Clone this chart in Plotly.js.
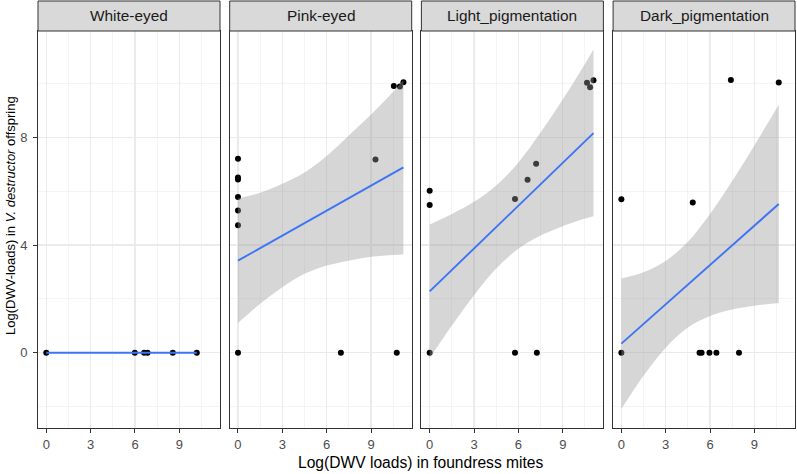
<!DOCTYPE html>
<html>
<head>
<meta charset="utf-8">
<script src="https://cdn.plot.ly/plotly-3.0.1.min.js"></script>
<style>html,body{margin:0;padding:0;background:#fff}#chart{width:797px;height:474px}</style>
</head>
<body>
<div id="chart"></div>
<script>
// ---------- data ----------
const panelNames = ['White-eyed', 'Pink-eyed', 'Light_pigmentation', 'Dark_pigmentation'];

// observed points
const whiteX = [0, 5.99, 6.62, 6.85, 8.56, 10.18];
const whiteY = [0, 0, 0, 0, 0, 0];
const pinkX = [0, 0, 0, 0, 0, 0, 0, 6.96, 10.74, 9.30, 10.54, 10.95, 11.19];
const pinkY = [7.20, 6.50, 6.43, 5.78, 5.28, 4.73, 0, 0, 0, 7.17, 9.90, 9.88, 10.04];
const lightX = [0, 0, 0, 5.77, 7.25, 5.77, 6.62, 7.20, 10.64, 10.85, 11.08];
const lightY = [6.01, 5.48, 0, 0, 0, 5.71, 6.42, 7.01, 10.02, 9.85, 10.11];
const darkX = [0, 0, 4.83, 5.29, 5.43, 5.96, 6.43, 7.96, 7.41, 10.65];
const darkY = [5.70, 0, 5.58, 0, 0, 0, 0, 0, 10.12, 10.03];

// fitted lines (end points)
const whiteFitX = [0, 10.18];
const whiteFitY = [0, 0];
const pinkFitX = [0, 11.19];
const pinkFitY = [3.42, 6.88];
const lightFitX = [0, 11.08];
const lightFitY = [2.28, 8.15];
const darkFitX = [0, 10.65];
const darkFitY = [0.34, 5.52];

// confidence bands
const pinkBandX = [0, 1.5, 3, 4.5, 6, 7.5, 9, 10.5, 11.19];
const pinkUpper = [5.73, 5.94, 6.27, 6.69, 7.30, 8.06, 8.84, 9.69, 10.11];
const pinkLower = [1.11, 1.82, 2.43, 2.93, 3.24, 3.42, 3.56, 3.63, 3.65];
const lightBandX = [0, 1.5, 3, 4.5, 6, 7.5, 9, 10.5, 11.08];
const lightUpper = [4.76, 5.15, 5.60, 6.21, 7.06, 8.17, 9.40, 10.72, 11.25];
const lightLower = [-0.20, 1.01, 2.14, 3.13, 3.86, 4.35, 4.70, 4.98, 5.07];
const darkBandX = [0, 1.5, 3, 4.5, 6, 7.5, 9, 10.5, 10.65];
const darkUpper = [2.76, 2.99, 3.41, 4.12, 5.15, 6.37, 7.69, 9.06, 9.20];
const darkLower = [-2.08, -0.85, 0.19, 0.94, 1.37, 1.61, 1.75, 1.84, 1.85];

const xTicks = [0, 3, 6, 9];
const yTicks = [0, 4, 8];

const xTitle = 'Log(DWV loads) in foundress mites';
const yTitle = 'Log(DWV-loads) in <i>V. destructor</i> offspring';

// ---------- build ----------
const panels = [
  {pts: [whiteX, whiteY], fit: [whiteFitX, whiteFitY], band: null},
  {pts: [pinkX, pinkY], fit: [pinkFitX, pinkFitY], band: [pinkBandX, pinkUpper, pinkLower]},
  {pts: [lightX, lightY], fit: [lightFitX, lightFitY], band: [lightBandX, lightUpper, lightLower]},
  {pts: [darkX, darkY], fit: [darkFitX, darkFitY], band: [darkBandX, darkUpper, darkLower]}
];

const FONT = 'Liberation Sans, Arial, sans-serif';
const W = 757, H = 397;
const domains = [[0, 182 / W], [191.7 / W, 373.7 / W], [383.4 / W, 565.4 / W], [575.1 / W, 1]];

const traces = [];
const layout = {
  width: 797, height: 474,
  margin: {l: 38, r: 2, t: 31, b: 46},
  paper_bgcolor: '#ffffff', plot_bgcolor: '#ffffff',
  showlegend: false,
  font: {family: FONT, color: '#000'},
  shapes: [], annotations: []
};

panels.forEach((p, i) => {
  const s = i === 0 ? '' : String(i + 1);
  const xa = 'x' + s, ya = 'y' + s;
  traces.push({type: 'scatter', mode: 'markers', x: p.pts[0], y: p.pts[1], xaxis: xa, yaxis: ya,
    marker: {color: '#000000', size: 6}, hoverinfo: 'x+y'});
  if (p.band) {
    traces.push({type: 'scatter', mode: 'lines', x: p.band[0], y: p.band[2], xaxis: xa, yaxis: ya,
      line: {width: 0, shape: 'spline'}, hoverinfo: 'skip'});
    traces.push({type: 'scatter', mode: 'lines', x: p.band[0], y: p.band[1], xaxis: xa, yaxis: ya,
      line: {width: 0, shape: 'spline'}, fill: 'tonexty', fillcolor: 'rgba(153,153,153,0.4)', hoverinfo: 'skip'});
  }
  traces.push({type: 'scatter', mode: 'lines', x: p.fit[0], y: p.fit[1], xaxis: xa, yaxis: ya,
    line: {color: '#3D74F5', width: 1.9}, hoverinfo: 'skip'});

  layout['xaxis' + s] = {
    domain: domains[i], anchor: ya, range: [-0.56, 11.75],
    tickmode: 'array', tickvals: xTicks, ticktext: xTicks.map(String),
    ticks: 'outside', ticklen: 4, tickcolor: '#333333', tickwidth: 1,
    tickfont: {family: FONT, size: 13, color: '#4D4D4D'},
    showgrid: true, gridcolor: '#EBEBEB', gridwidth: 1.1,
    minor: {tickmode: 'array', tickvals: [1.5, 4.5, 7.5, 10.5], showgrid: true, gridcolor: '#EBEBEB', gridwidth: 0.55, ticks: ''},
    zeroline: false, showline: true, mirror: true, linecolor: '#333333', linewidth: 1
  };
  layout['yaxis' + s] = {
    domain: [0, 1], anchor: xa, range: [-2.79, 11.94],
    tickmode: 'array', tickvals: yTicks, ticktext: yTicks.map(String),
    ticks: i === 0 ? 'outside' : '', ticklen: 4, tickcolor: '#333333', tickwidth: 1,
    showticklabels: i === 0, ticklabelstandoff: 3,
    tickfont: {family: FONT, size: 13, color: '#4D4D4D'},
    showgrid: true, gridcolor: '#EBEBEB', gridwidth: 1.1,
    minor: {tickmode: 'array', tickvals: [-2, 2, 6, 10], showgrid: true, gridcolor: '#EBEBEB', gridwidth: 0.55, ticks: ''},
    zeroline: false, showline: true, mirror: true, linecolor: '#333333', linewidth: 1
  };

  // facet strip
  layout.shapes.push({type: 'rect', xref: 'paper', yref: 'paper',
    x0: domains[i][0], x1: domains[i][1], y0: 1, y1: 1 + 30 / H,
    fillcolor: '#D9D9D9', line: {color: '#333333', width: 1}, layer: 'above'});
  layout.annotations.push({xref: 'paper', yref: 'paper', x: (domains[i][0] + domains[i][1]) / 2,
    y: 1 + 15 / H, xanchor: 'center', yanchor: 'middle', showarrow: false,
    text: panelNames[i], font: {family: FONT, size: 15.4, color: '#1A1A1A'}});
});

layout.annotations.push({xref: 'paper', yref: 'paper', x: (420 - 38) / W, y: (428 - 462) / H,
  xanchor: 'center', yanchor: 'middle', showarrow: false, text: xTitle,
  font: {family: FONT, size: 15.6, color: '#000'}});
layout.annotations.push({xref: 'paper', yref: 'paper', x: (10 - 38) / W, y: (428 - 216) / H,
  xanchor: 'center', yanchor: 'middle', showarrow: false, textangle: -90, text: yTitle,
  font: {family: FONT, size: 13, color: '#000'}});

Plotly.newPlot('chart', traces, layout, {displayModeBar: false, staticPlot: true});
</script>
</body>
</html>
